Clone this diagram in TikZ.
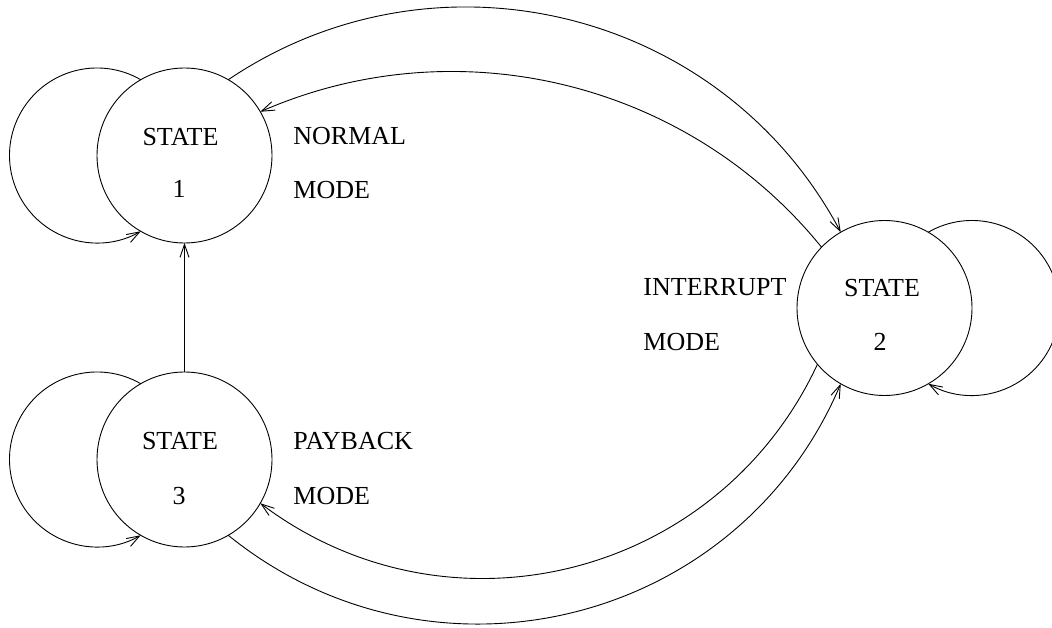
\documentclass[tikz,border=0pt]{standalone}
\usepackage{fontspec}
\setmainfont{Liberation Serif}
\usetikzlibrary{arrows.meta}
\begin{document}
\begin{tikzpicture}[x=1pt,y=1pt,line width=0.9pt,
  font=\fontsize{26}{31}\selectfont,
  statecircle/.style={circle,draw,minimum size=175pt,inner sep=0pt,outer sep=0pt},
  lbl/.style={anchor=base west,inner sep=0pt},
  ctr/.style={anchor=base,inner sep=0pt},
  arr/.style={-{Straight Barb[length=13pt,width=9pt]}}]
\useasboundingbox (0,0) rectangle (1052,627);
% states
\node[statecircle] (s1) at (184.5,471.5) {};
\node[statecircle] (s2) at (884.5,319) {};
\node[statecircle] (s3) at (184.5,167.5) {};
% state texts
\node[ctr] (s1a) at (180.5,481) {STATE};
\node[ctr] (s1b) at (179,429) {1};
\node[ctr] (s2a) at (882,330.5) {STATE};
\node[ctr] (s2b) at (880,276) {2};
\node[ctr] (s3a) at (180,177.7) {STATE};
\node[ctr] (s3b) at (179,122.7) {3};
% mode labels
\node[lbl] (m1a) at (293,482) {NORMAL};
\node[lbl] (m1b) at (293,428) {MODE};
\node[lbl] (m2a) at (643,331) {INTERRUPT};
\node[lbl] (m2b) at (643,276.3) {MODE};
\node[lbl] (m3a) at (293,178) {PAYBACK};
\node[lbl] (m3b) at (293,123) {MODE};
% self loops
\draw[arr] (s1.120) arc[start angle=60,end angle=300,radius=87.5pt];
\draw[arr] (s3.120) arc[start angle=60,end angle=300,radius=87.5pt];
\draw[arr] (s2.60) arc[start angle=120,end angle=-120,radius=87.5pt];
% transitions
\draw[arr] (s3.north) -- (s1.south);
\draw[arr] (s1.60) .. controls +(34:252pt) and +(118:252pt) .. (s2.120);
\draw[arr] (s2.136) .. controls +(129:214pt) and +(23.6:214pt) .. (s1.30);
\draw[arr] (s2.220) .. controls +(245:236pt) and +(-37:236pt) .. (s3.-30);
\draw[arr] (s3.-60) .. controls +(-39:263pt) and +(247:263pt) .. (s2.240);
\end{tikzpicture}
\end{document}
